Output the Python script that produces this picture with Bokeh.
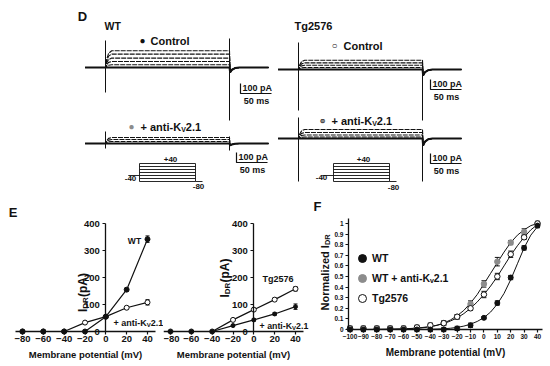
import math
from bokeh.plotting import figure
from bokeh.layouts import column, row
from bokeh.models import (Range1d, Label, FixedTicker, Whisker, TeeHead,
                          ColumnDataSource, Legend, LegendItem)
from bokeh.embed import file_html
from bokeh.resources import INLINE

# ======================= DATA =======================
# Panel D : steady-state amplitude of each sweep (pA)
wt_ctrl_levels = [0, 27, 60, 94, 134, 167]
tg_ctrl_levels = [0, 20, 43, 66, 93]
wt_anti_levels = [0, 20, 40, 60]
tg_anti_levels = [0, 15, 35, 60, 90]
# per trace panel (WT ctrl, Tg ctrl, WT anti, Tg anti)
tail_min = [-50, -60, -20, -70]            # tail current (pA)
spike_on_up = [270, 270, 120, 210]         # capacitive transients (pA)
spike_on_down = [-250, -410, -50, -430]
spike_off_up = [290, 90, 70, 30]
spike_off_down = [-530, -510, -70, -430]
# sweep time course (ms) and its activation / tail shape
sweep_t = [-33, 0, 2, 5, 10, 200, 201, 204, 209, 216, 263]
sweep_on = [0, 0, 0.5, 0.85, 1, 1, 0, 0, 0, 0, 0]
sweep_off = [0, 0, 0, 0, 0, 0, 1, 0.45, 0.12, 0, 0]
pulse_ms = 200
# voltage protocol (mV, ms)
proto_steps = [-80, -60, -40, -20, 0, 20, 40]
proto_hold = -40
proto_return = -80
proto_t = [-40, 0, 200, 225]

# Panel E : I-V relations (pA)
e_v = [-80, -60, -40, -20, 0, 20, 40]
e1_wt = [0, 0, 0, 0, 55, 155, 342]
e1_wt_err = [0, 0, 0, 0, 4, 6, 12]
e1_anti = [0, 0, 0, 33, 55, 88, 108]
e1_anti_err = [0, 0, 0, 6, 4, 5, 10]
e2_tg = [0, 0, 0, 43, 81, 118, 158]
e2_tg_err = [0, 0, 0, 5, 5, 6, 8]
e2_anti = [0, 0, 0, 22, 43, 65, 92]
e2_anti_err = [0, 0, 0, 4, 4, 5, 10]
e_xticks = [-80, -60, -40, -20, 0, 20, 40]
e_yticks = [0, 100, 200, 300, 400]

# Panel F : normalized activation
f_v = [-100, -90, -80, -70, -60, -50, -40, -30, -20, -10, 0, 10, 20, 30, 40]
f_wt = [0, 0, 0, 0, 0, 0, 0, 0, 0.01, 0.04, 0.11, 0.25, 0.49, 0.77, 0.98]
f_wt_err = [0.02, 0.02, 0.02, 0.02, 0.02, 0.02, 0.02, 0.02, 0.02, 0.02, 0.01, 0.02, 0.02, 0.02, 0.02]
f_anti = [0.01, 0.01, 0.01, 0.01, 0.01, 0.01, 0.03, 0.06, 0.12, 0.24, 0.43, 0.64, 0.82, 0.92, 1.0]
f_anti_err = [0.02, 0.02, 0.02, 0.02, 0.02, 0.02, 0.02, 0.02, 0.02, 0.03, 0.03, 0.04, 0.02, 0.03, 0.02]
f_tg = [0.01, 0.01, 0.01, 0.01, 0.01, 0.02, 0.04, 0.06, 0.12, 0.2, 0.33, 0.5, 0.71, 0.87, 1.0]
f_tg_err = [0.02, 0.02, 0.02, 0.02, 0.02, 0.02, 0.02, 0.02, 0.02, 0.02, 0.03, 0.03, 0.03, 0.02, 0.02]
fit_v = [-100, -90, -80, -70, -60, -50, -40, -35, -30, -25, -20, -15, -10, -5,
         0, 5, 10, 15, 20, 25, 30, 35, 40]
fit_wt = [0, 0, 0, 0, 0, 0, 0.002, 0.004, 0.007, 0.012, 0.02, 0.032, 0.05, 0.076,
          0.112, 0.165, 0.24, 0.34, 0.47, 0.62, 0.77, 0.89, 0.97]
fit_anti = [0, 0, 0.001, 0.002, 0.004, 0.01, 0.025, 0.04, 0.06, 0.09, 0.13, 0.18, 0.25, 0.33,
            0.43, 0.53, 0.63, 0.73, 0.82, 0.89, 0.94, 0.98, 1.0]
fit_tg = [0, 0, 0.001, 0.003, 0.006, 0.013, 0.028, 0.04, 0.056, 0.08, 0.11, 0.15, 0.2, 0.26,
          0.33, 0.41, 0.5, 0.6, 0.7, 0.79, 0.87, 0.94, 0.99]
f_xticks = [-100, -90, -80, -70, -60, -50, -40, -30, -20, -10, 0, 10, 20, 30, 40]
f_yticks = [0, 0.1, 0.2, 0.3, 0.4, 0.5, 0.6, 0.7, 0.8, 0.9, 1.0]

# ======================= STYLE =======================
FONT = "Liberation Sans"
INK = "#111111"
GRAY = "#8c8c8c"
EM = {' ': .278, '+': .584, 'a': .556, 'n': .611, 't': .333, 'i': .278, '-': .333,
      'K': .722, 'V': .667, '2': .556, '.': .278, '1': .556, 'I': .278, 'D': .722,
      'R': .722, '(': .333, 'p': .611, 'A': .722, ')': .333, 'N': .722, 'o': .611,
      'r': .389, 'm': .889, 'l': .278, 'z': .5, 'e': .556, 'd': .611}


def tw(s, size):
    return sum(EM.get(c, .556) for c in s) * size


def lab(p, x, y, text, size, align="left", baseline="middle",
        color=INK, angle=0.0, xo=0, yo=0):
    p.add_layout(Label(x=x, y=y, text=text, text_font=FONT,
                       text_font_size=f"{size}px", text_font_style="bold",
                       text_align=align, text_baseline=baseline, text_color=color,
                       angle=angle, x_offset=xo, y_offset=yo))


def rich(p, x, y, pieces, rotated=False):
    off = 0.0
    for text, size, shift in pieces:
        if rotated:
            lab(p, x, y, text, size, angle=math.pi / 2, xo=shift, yo=off)
        else:
            lab(p, x, y, text, size, xo=off, yo=-shift)
        off += tw(text, size)


def add_err(p, xs, ys, errs, head=4):
    pts = [(a, b, c) for a, b, c in zip(xs, ys, errs) if c > 0]
    src = ColumnDataSource(dict(x=[a for a, _, _ in pts],
                                lo=[b - c for _, b, c in pts],
                                hi=[b + c for _, b, c in pts]))
    p.add_layout(Whisker(source=src, base="x", lower="lo", upper="hi",
                         dimension="height", line_color=INK, line_width=1,
                         upper_head=TeeHead(size=head, line_color=INK, line_width=1),
                         lower_head=TeeHead(size=head, line_color=INK, line_width=1)))


def minus(v):
    return ("\u2212" + str(abs(v))) if v < 0 else str(v)


def style_axes(p, tick_size, label_size, x_standoff, label_standoff):
    p.grid.visible = False
    p.outline_line_color = None
    p.xaxis.axis_label = "Membrane potential (mV)"
    p.xaxis.axis_label_text_font = FONT
    p.xaxis.axis_label_text_font_size = label_size
    p.xaxis.axis_label_text_font_style = "bold"
    p.xaxis.axis_label_text_color = INK
    p.xaxis.axis_label_standoff = label_standoff
    p.xaxis.major_label_standoff = x_standoff
    p.yaxis.major_label_standoff = 3
    for ax in p.axis:
        ax.major_tick_in = 0
        ax.major_tick_out = 3
        ax.minor_tick_in = 0
        ax.minor_tick_out = 0
        ax.axis_line_width = 1.3
        ax.axis_line_color = INK
        ax.major_tick_line_width = 1.2
        ax.major_tick_line_color = INK
        ax.major_label_text_font = FONT
        ax.major_label_text_font_size = tick_size
        ax.major_label_text_font_style = "bold"
        ax.major_label_text_color = INK


# ======================= PANEL D =======================
X_LO, X_HI, Y_TOP, Y_BOT = 0, 550, 0, 198
PX_PER_MS, PX_PER_PA = 0.62, 0.1
PROTO_PX_PER_MS, PROTO_PX_PER_MV = 0.28, 0.15
trace_x0 = [105, 298, 105, 298]       # page px of pulse onset
trace_y0 = [67, 69, 143, 138]         # page px of baseline
trace_levels = [wt_ctrl_levels, tg_ctrl_levels, wt_anti_levels, tg_anti_levels]
bar_corner = [(240, 93), (430, 89), (236, 162), (430, 163)]
proto_x0 = [139, 333]
proto_y40 = [163, 163]

ex, ey = {}, {}
for k in range(4):
    ex[f"t{k}"] = Range1d((X_LO - trace_x0[k]) / PX_PER_MS, (X_HI - trace_x0[k]) / PX_PER_MS)
    ey[f"t{k}"] = Range1d((trace_y0[k] - Y_BOT) / PX_PER_PA, (trace_y0[k] - Y_TOP) / PX_PER_PA)
for k in range(2):
    zero_y = proto_y40[k] + 40 * PROTO_PX_PER_MV
    ex[f"p{k}"] = Range1d((X_LO - proto_x0[k]) / PROTO_PX_PER_MS, (X_HI - proto_x0[k]) / PROTO_PX_PER_MS)
    ey[f"p{k}"] = Range1d((zero_y - Y_BOT) / PROTO_PX_PER_MV, (zero_y - Y_TOP) / PROTO_PX_PER_MV)

pD = figure(width=550, height=198, x_range=Range1d(X_LO, X_HI), y_range=Range1d(Y_BOT, Y_TOP),
            x_axis_location=None, y_axis_location=None, toolbar_location=None,
            output_backend="svg", min_border=0, outline_line_color=None)
pD.extra_x_ranges = ex
pD.extra_y_ranges = ey
pD.grid.visible = False

for k in range(4):
    rn = f"t{k}"
    sweeps = {True: ([], []), False: ([], [])}
    for lvl in trace_levels[k]:
        xs, ys = sweeps[lvl == 0]
        xs.append(sweep_t)
        ys.append([lvl * a + tail_min[k] * b for a, b in zip(sweep_on, sweep_off)])
    xs, ys = sweeps[False]
    pD.multi_line(xs, ys, line_width=1.1, line_color=INK, line_dash="5 1",
                  x_range_name=rn, y_range_name=rn)
    xs, ys = sweeps[True]
    pD.multi_line(xs, ys, line_width=2.0, line_color=INK, x_range_name=rn, y_range_name=rn)
    pD.segment(x0=[0, pulse_ms], x1=[0, pulse_ms],
               y0=[spike_on_down[k], spike_off_down[k]], y1=[spike_on_up[k], spike_off_up[k]],
               line_color=INK, line_width=1, x_range_name=rn, y_range_name=rn)
    # scale bar 100 pA / 50 ms
    cx, cy = bar_corner[k]
    tc = (cx - trace_x0[k]) / PX_PER_MS
    ic = (trace_y0[k] - cy) / PX_PER_PA
    pD.multi_line([[tc, tc, tc + 50]], [[ic + 100, ic, ic]], line_color=INK, line_width=1.2,
                  x_range_name=rn, y_range_name=rn)
    lab(pD, cx + 2, cy - 1, "100 pA", 9, baseline="bottom")
    lab(pD, cx + 16, cy + 2, "50 ms", 9, align="center", baseline="top")

for k in range(2):
    rn = f"p{k}"
    lo, hi = min(proto_steps), max(proto_steps)
    xs = [[proto_t[1], proto_t[2]] for _ in proto_steps] + \
         [[proto_t[0], proto_t[1]], [proto_t[2], proto_t[3]], [proto_t[1], proto_t[1]], [proto_t[2], proto_t[2]]]
    ys = [[v, v] for v in proto_steps] + \
         [[proto_hold, proto_hold], [proto_return, proto_return], [lo, hi], [lo, hi]]
    pD.multi_line(xs, ys, line_color=INK, line_width=0.9, x_range_name=rn, y_range_name=rn)

# Panel D texts
lab(pD, 82, 16, "D", 13, align="center")
lab(pD, 104, 25, "WT", 10.5)
lab(pD, 294, 25.5, "Tg2576", 11)
lab(pD, 142, 40, "\u25CF", 10, align="center")
lab(pD, 150, 40, "Control", 11)
lab(pD, 334, 45, "\u25CB", 10, align="center")
lab(pD, 343, 45, "Control", 11)
lab(pD, 131, 126, "\u25CF", 10, align="center", color=GRAY)
rich(pD, 140, 126, [("+ anti-K", 11, 0), ("V", 7, 3), ("2.1", 11, 0)])
lab(pD, 322, 120, "\u25CF", 10, align="center", color=GRAY)
lab(pD, 322, 120, "\u25CB", 10, align="center")
rich(pD, 331, 120, [("+ anti-K", 11, 0), ("V", 7, 3), ("2.1", 11, 0)])
lab(pD, 170, 159, "+40", 8, align="center")
lab(pD, 130, 178, "-40", 8, align="center")
lab(pD, 198, 186, "-80", 8, align="center")
lab(pD, 363, 159, "+40", 8, align="center")
lab(pD, 321, 177, "-40", 8, align="center")
lab(pD, 393, 187, "-80", 8, align="center")

# ======================= PANEL E =======================
PX_MV_E = 125 / 120      # px per mV
PX_PA_E = 0.27           # px per pA
E_ZERO_Y = 331           # page px of 0 pA
ROW_TOP, ROW_BOT = 198, 366


def e_figure(left_px, right_px, m80_px):
    start = -80 - (m80_px - left_px) / PX_MV_E
    p = figure(width=right_px - left_px, height=ROW_BOT - ROW_TOP,
               x_range=Range1d(start, start + (right_px - left_px) / PX_MV_E),
               y_range=Range1d(-(ROW_BOT - E_ZERO_Y) / PX_PA_E, (E_ZERO_Y - ROW_TOP) / PX_PA_E),
               toolbar_location=None, output_backend="svg", min_border=0)
    p.xaxis.fixed_location = 0
    p.yaxis.fixed_location = 0
    p.xaxis.ticker = FixedTicker(ticks=e_xticks)
    p.xaxis.major_label_overrides = {t: minus(t) for t in e_xticks}
    p.xaxis.bounds = (-80 - 7 / PX_MV_E, 40 + 8 / PX_MV_E)
    p.yaxis.ticker = FixedTicker(ticks=e_yticks)
    p.yaxis.bounds = (0, 400)
    style_axes(p, "9.5px", "9.5px", 1, 4)
    return p


pE1 = e_figure(0, 163, 22)
pE1.line(e_v, e1_anti, line_color=INK, line_width=1.2)
pE1.line(e_v, e1_wt, line_color=INK, line_width=1.2)
add_err(pE1, e_v, e1_anti, e1_anti_err)
add_err(pE1, e_v, e1_wt, e1_wt_err)
pE1.scatter(e_v, e1_anti, size=5, fill_color="white", line_color=INK, line_width=1)
pE1.scatter(e_v, e1_wt, size=5, fill_color=INK, line_color=INK)
lab(pE1, -80 - 9.5 / PX_MV_E, (E_ZERO_Y - 211.5) / PX_PA_E, "E", 13, align="center")
lab(pE1, 27.5, 337, "WT", 8.5, align="center")
rich(pE1, 7.4, 33, [("+ anti-K", 9, 0), ("V", 6, 2.5), ("2.1", 9, 0)])
rich(pE1, -80 + (82 - 22) / PX_MV_E, (E_ZERO_Y - 311.5) / PX_PA_E,
     [("I", 12, 0), ("DR", 8, 3), (" (pA)", 12, 0)], rotated=True)

pE2 = e_figure(163, 312, 170)
pE2.line(e_v, e2_tg, line_color=INK, line_width=1.2)
pE2.line(e_v, e2_anti, line_color=INK, line_width=1.2)
add_err(pE2, e_v, e2_tg, e2_tg_err)
add_err(pE2, e_v, e2_anti, e2_anti_err)
pE2.scatter(e_v, e2_tg, size=5, fill_color="white", line_color=INK, line_width=1)
pE2.scatter(e_v, e2_anti, size=4, fill_color=INK, line_color=INK)
lab(pE2, 8.4, 193, "Tg2576", 9)
rich(pE2, 5.5, 22, [("+ anti-K", 8.8, 0), ("V", 6, 2.5), ("2.1", 8.8, 0)])
rich(pE2, (224 - 253.3) / PX_MV_E, (E_ZERO_Y - 297) / PX_PA_E,
     [("I", 12, 0), ("DR", 8, 3), (" (pA)", 12, 0)], rotated=True)

# ======================= PANEL F =======================
PX_MV_F = 187.5 / 140    # px per mV
PX_U_F = 106             # px per normalized unit
F_ZERO_Y = 329
F_LEFT, F_RIGHT, F_M100 = 312, 550, 349.5
f_start = -100 - (F_M100 - F_LEFT) / PX_MV_F
f_yaxis_at = -100 - 1.5 / PX_MV_F
pF = figure(width=F_RIGHT - F_LEFT, height=ROW_BOT - ROW_TOP,
            x_range=Range1d(f_start, f_start + (F_RIGHT - F_LEFT) / PX_MV_F),
            y_range=Range1d(-(ROW_BOT - F_ZERO_Y) / PX_U_F, (F_ZERO_Y - ROW_TOP) / PX_U_F),
            toolbar_location=None, output_backend="svg", min_border=0)
pF.xaxis.fixed_location = 0
pF.yaxis.fixed_location = f_yaxis_at
pF.xaxis.ticker = FixedTicker(ticks=f_xticks)
pF.xaxis.major_label_overrides = {t: minus(t) for t in f_xticks}
pF.xaxis.bounds = (f_yaxis_at, 40 + 5 / PX_MV_F)
pF.yaxis.ticker = FixedTicker(ticks=f_yticks)
pF.yaxis.major_label_overrides = {t: ("0" if t == 0 else "1" if t == 1 else f"{t:.1f}") for t in f_yticks}
pF.yaxis.bounds = (0, 1.05)
style_axes(pF, "6.5px", "10px", 1, 5)
pF.yaxis.major_label_standoff = 2

pF.line(fit_v, fit_anti, line_color=INK, line_width=1)
pF.line(fit_v, fit_tg, line_color=INK, line_width=1)
pF.line(fit_v, fit_wt, line_color=INK, line_width=1)
add_err(pF, f_v, f_anti, f_anti_err, head=5)
add_err(pF, f_v, f_tg, f_tg_err, head=5)
add_err(pF, f_v, f_wt, f_wt_err, head=5)
r_anti = pF.scatter(f_v, f_anti, size=5.5, fill_color=GRAY, line_color=GRAY)
r_tg = pF.scatter(f_v, f_tg, size=5.5, fill_color="white", line_color=INK, line_width=1)
r_wt = pF.scatter(f_v, f_wt, size=5, fill_color=INK, line_color=INK)

legend = Legend(items=[LegendItem(label="WT", renderers=[r_wt]),
                       LegendItem(label="WT + anti-K\u1d652.1", renderers=[r_anti]),
                       LegendItem(label="Tg2576", renderers=[r_tg])],
                location=(40, 58), glyph_width=20, glyph_height=20, spacing=-6,
                padding=0, margin=0, label_standoff=0, label_height=14,
                border_line_color=None, background_fill_alpha=0,
                label_text_font=FONT, label_text_font_style="bold",
                label_text_font_size="10.5px", label_text_color=INK)
pF.add_layout(legend)

lab(pF, f_start + (317 - F_LEFT) / PX_MV_F, (F_ZERO_Y - 206) / PX_U_F, "F", 13, align="center")
rich(pF, f_start + (324 - F_LEFT) / PX_MV_F, (F_ZERO_Y - 310) / PX_U_F,
     [("Normalized I", 11, 0), ("DR", 7.5, 2.5)], rotated=True)

layout = column(pD, row(pE1, pE2, pF))
open("out.html", "w").write(file_html(layout, INLINE))
